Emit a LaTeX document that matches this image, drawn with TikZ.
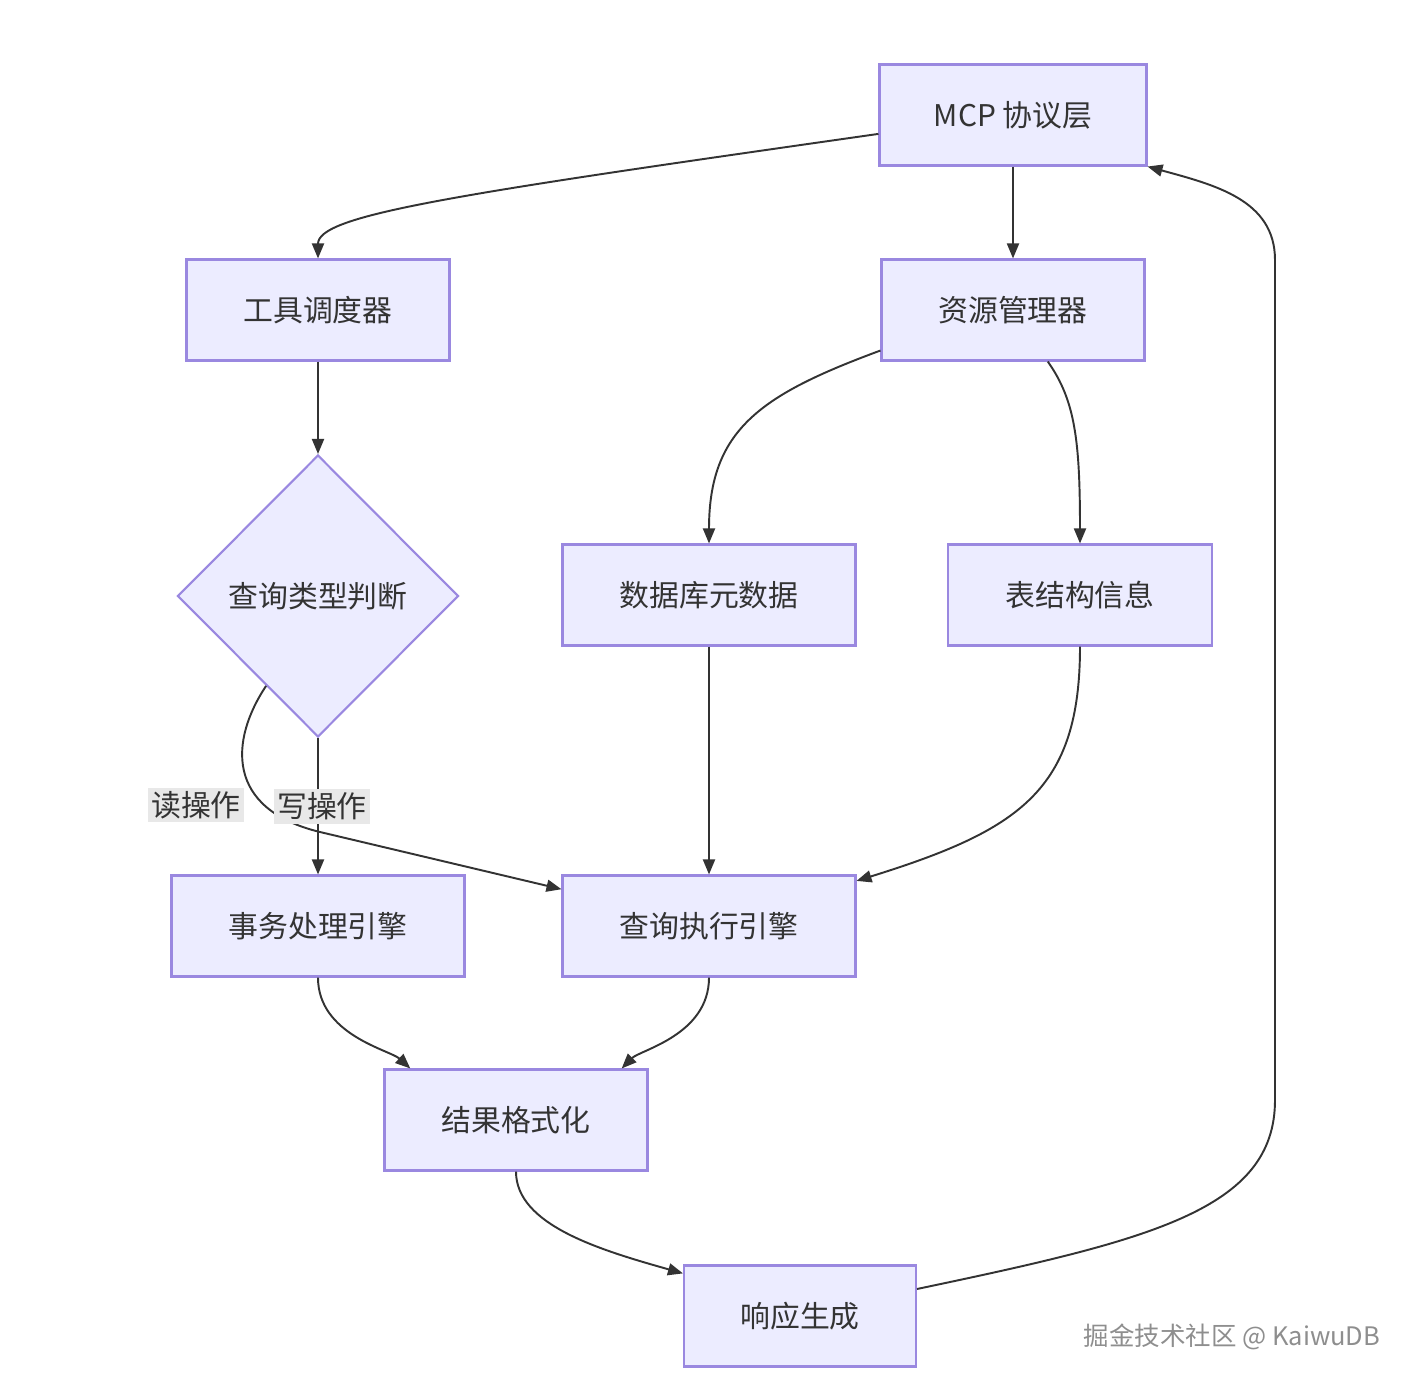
\documentclass[tikz,border=0pt]{standalone}
\usepackage{fontspec}
\usepackage{tikz}
\usetikzlibrary{shapes,arrows.meta}
\newfontfamily\cjk{Noto Sans CJK SC}
\definecolor{boxfill}{HTML}{ECECFF}
\definecolor{boxline}{HTML}{9A88E0}
\definecolor{edgeline}{HTML}{333333}
\definecolor{lblfill}{HTML}{E8E8E8}
\definecolor{wmgray}{HTML}{8E8E8E}
\tikzset{box/.style={draw=boxline,fill=boxfill,line width=1.2pt,text=edgeline,
    font=\cjk\fontsize{17}{20}\selectfont,minimum height=2.02cm,inner sep=0pt},
  judgebox/.style={box,diamond,minimum width=5.62cm,minimum height=5.64cm},
  lbl/.style={fill=lblfill,text=edgeline,font=\cjk\fontsize{17}{20}\selectfont,inner sep=2pt},
  flow/.style={-{Triangle[length=0.3cm,width=0.24cm]},draw=edgeline,line width=1.1pt},
  wmtext/.style={text=wmgray,font=\cjk\fontsize{14.5}{17}\selectfont,inner sep=0pt}}

\begin{document}
\begin{tikzpicture}[x=0.02cm,y=-0.02cm]
    \useasboundingbox (0,0) rectangle (1414,1386);
    \node[box,minimum width=5.34cm] (mcp) at (1013,115) {MCP 协议层};
    \node[box,minimum width=5.26cm] (tool) at (318,310) {工具调度器};
    \node[box,minimum width=5.26cm] (res) at (1013,310) {资源管理器};
    \node[judgebox] (judge) at (318,596) {查询类型判断};
    \node[box,minimum width=5.86cm] (meta) at (709,595) {数据库元数据};
    \node[box,minimum width=5.28cm] (tbl) at (1080,595) {表结构信息};
    \node[box,minimum width=5.86cm] (txn) at (318,926) {事务处理引擎};
    \node[box,minimum width=5.86cm] (qexec) at (709,926) {查询执行引擎};
    \node[box,minimum width=5.26cm] (result) at (516,1120) {结果格式化};
    \node[box,minimum width=4.64cm] (resp) at (800,1316) {响应生成};
    \node[lbl] (readlbl) at (196,805) {读操作};
    \node[wmtext] (wm) at (1232,1337) {掘金技术社区 @ KaiwuDB};
    % connectors
    \draw[flow] (mcp.188.5) .. controls (450,195) and (318,215) .. (tool.north);
    \draw[flow] (mcp.south) -- (res.north);
    \draw[flow] (tool.south) -- (judge.north);
    \draw[flow] (res.197.8) .. controls (760,395) and (709,430) .. (meta.north);
    \draw[flow] (res.304.5) .. controls (1075,400) and (1080,440) .. (tbl.north);
    \draw[flow] (judge.240) .. controls (230,740) and (225,809) .. (320,832) -- (qexec.166);
    \draw[flow] (judge.south) -- node[lbl,xshift=0.08cm] {写操作} (txn.north);
    \draw[flow] (meta.south) -- (qexec.north);
    \draw[flow] (tbl.south) .. controls (1080,790) and (1020,830) .. (qexec.17);
    \draw[flow] (txn.south) .. controls (318,1035) and (390,1050) .. (result.154);
    \draw[flow] (qexec.south) .. controls (709,1035) and (640,1050) .. (result.26);
    \draw[flow] (result.south) .. controls (516,1225) and (600,1250) .. (resp.160);
    \draw[flow] (resp.13) .. controls (1150,1240) and (1275,1210) .. (1275,1100)
        -- (1275,260) .. controls (1275,200) and (1215,185) .. (mcp.south east);
\end{tikzpicture}
\end{document}
